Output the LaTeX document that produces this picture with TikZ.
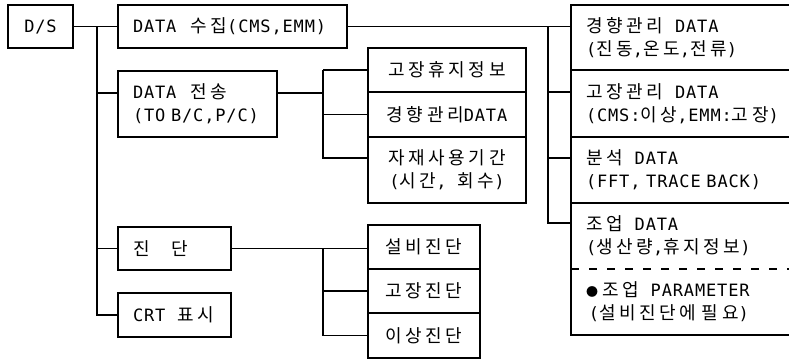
\documentclass[tikz,border=0pt]{standalone}
\usepackage{fontspec}
\setmainfont[LetterSpace=5]{DejaVu Sans Mono}
\newfontfamily\krfont[LetterSpace=20]{Noto Sans CJK KR}
\newcommand\hk[1]{{\fontsize{18}{23}\selectfont\krfont #1}}
\begin{document}
\begin{tikzpicture}[x=1pt,y=-1pt,
  box/.style={draw,line width=1.4pt,inner sep=0pt,outer sep=0pt,
    font=\fontsize{17}{23}\selectfont},
  lbox/.style={box,align=left,inner xsep=15pt},
  cbox/.style={box,align=center},
  plain/.style={lbox,draw=none},
  conn/.style={line width=1.4pt}]
\useasboundingbox (0,0) rectangle (789,359);
\clip (0,0) rectangle (789,359);
% left column
\node[cbox,minimum width=65pt,minimum height=43pt] (ds) at (40.5,26.5) {D/S};
\node[lbox,text width=199pt,minimum height=43pt] (dcol) at (232.5,26.5) {\mbox{DATA\hspace{14pt}\hk{수집}(CMS,EMM)}};
\node[lbox,text width=129pt,minimum height=66pt] (send) at (197.5,104) {\mbox{DATA\hspace{14pt}\hk{전송}}\\\mbox{(TO B/C,P/C)}};
\node[lbox,text width=83pt,minimum height=43pt] (diag) at (174.5,248.5) {\mbox{\hk{진}\hspace{22pt}\hk{단}}};
\node[lbox,text width=83pt,minimum height=44pt] (crt) at (174.5,315) {\mbox{CRT\hspace{12pt}\hk{표시}}};
% middle column
\node[cbox,minimum width=158pt,minimum height=44pt] (m1) at (447,70) {\hk{고장휴지정보}};
\node[cbox,minimum width=158pt,minimum height=45pt] (m2) at (447,114.5) {\hk{경향관리}DATA};
\node[cbox,minimum width=158pt,minimum height=66pt] (m3) at (447,170) {\hk{자재사용기간}\\(\hk{시간}, \hk{회수})};
\node[cbox,minimum width=112pt,minimum height=44pt] (d1) at (424,247) {\hk{설비진단}};
\node[cbox,minimum width=112pt,minimum height=44pt] (d2) at (424,291) {\hk{고장진단}};
\node[cbox,minimum width=112pt,minimum height=45pt] (d3) at (424,335.5) {\hk{이상진단}};
% right column
\node[lbox,text width=259pt,minimum height=65pt] (r1) at (715.5,37.5) {\mbox{\hk{경향관리}\hspace{12pt}DATA}\\\mbox{(\hk{진동},\hk{온도},\hk{전류})}};
\node[lbox,text width=259pt,minimum height=67pt] (r2) at (715.5,103.5) {\mbox{\hk{고장관리}\hspace{12pt}DATA}\\\mbox{(CMS:\hk{이상},EMM:\hk{고장})}};
\node[lbox,text width=259pt,minimum height=66pt] (r3) at (715.5,170) {\mbox{\hk{분석}\hspace{12pt}DATA}\\\mbox{(FFT, TRACE BACK)}};
\node[plain,text width=259pt,minimum height=66pt] (r4) at (715.5,236) {\mbox{\hk{조업}\hspace{12pt}DATA}\\\mbox{(\hk{생산량},\hk{휴지정보})}};
\node[plain,text width=259pt,minimum height=66pt] (r5) at (715.5,302) {\mbox{{\fontsize{12}{12}\selectfont\krfont ●}\hspace{4pt}\hk{조업}\hspace{12pt}PARAMETER}\\\mbox{\,(\hk{설비진단에 필요})}};
\draw[conn] (r4.north west) rectangle (r5.south east);
\draw[conn,dash pattern=on 8pt off 10pt] (r4.south west) -- (r4.south east);
% junction coordinates
\coordinate (bx) at (97,0);
\coordinate (j2) at (323,0);
\coordinate (j3) at (548,0);
\coordinate (sendW) at ([yshift=11pt]send.west);
\coordinate (sendE) at ([yshift=11pt]send.east);
\coordinate (m3W) at ([yshift=12pt]m3.west);
\coordinate (r2W) at ([yshift=11.5pt]r2.west);
\coordinate (r3W) at ([yshift=12pt]r3.west);
\coordinate (r4W) at ([yshift=13pt]r4.west);
% connectors: main bus
\draw[conn] (ds.east) -- (dcol.west);
\draw[conn] (bx |- ds.east) |- (crt.west);
\draw[conn] (bx |- sendW) -- (sendW);
\draw[conn] (bx |- diag.west) -- (diag.west);
% DATA transfer subtree
\draw[conn] (sendE) -- (sendE -| j2);
\draw[conn] (j2 |- m1.west) -- (m1.west);
\draw[conn] (j2 |- m1.west) |- (m3W);
\draw[conn] (j2 |- m2.west) -- (m2.west);
% diagnosis subtree
\draw[conn] (diag.east) -- (diag.east -| d1.west);
\draw[conn] (j2 |- diag.east) |- (d3.west);
\draw[conn] (j2 |- d2.west) -- (d2.west);
% data collection subtree
\draw[conn] (dcol.east) -- (dcol.east -| r1.west);
\draw[conn] (j3 |- dcol.east) |- (r4W);
\draw[conn] (j3 |- r2W) -- (r2W);
\draw[conn] (j3 |- r3W) -- (r3W);
\end{tikzpicture}
\end{document}
